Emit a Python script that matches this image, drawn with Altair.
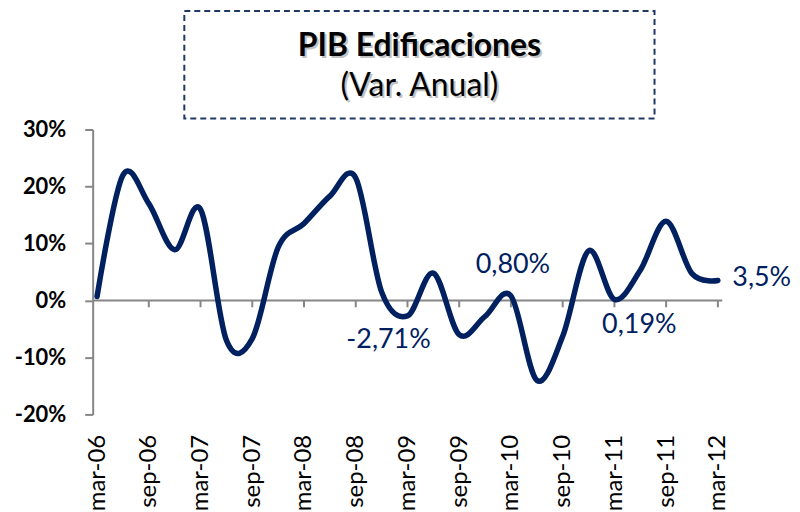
import altair as alt
import pandas as pd

# ---- data ----
quarters = ["mar-06", "jun-06", "sep-06", "dic-06",
            "mar-07", "jun-07", "sep-07", "dic-07",
            "mar-08", "jun-08", "sep-08", "dic-08",
            "mar-09", "jun-09", "sep-09", "dic-09",
            "mar-10", "jun-10", "sep-10", "dic-10",
            "mar-11", "jun-11", "sep-11", "dic-11",
            "mar-12"]
growth = [0.7, 22.0, 17.0, 8.9,
          16.0, -7.0, -6.7, 9.3,
          13.5, 18.3, 21.5, 1.5,
          -2.71, 4.8, -6.0, -2.8,
          0.80, -14.0, -6.3, 8.7,
          0.19, 5.3, 13.9, 4.7,
          3.5]
tick_labels = ["mar-06", "sep-06", "mar-07", "sep-07", "mar-08", "sep-08", "mar-09",
               "sep-09", "mar-10", "sep-10", "mar-11", "sep-11", "mar-12"]
y_ticks = [-20, -10, 0, 10, 20, 30]
ann_quarters = ["mar-09", "mar-10", "mar-11", "mar-12"]
ann_values = [-2.71, 0.80, 0.19, 3.5]
ann_texts = ["-2,71%", "0,80%", "0,19%", "3,5%"]
title_main = ["PIB Edificaciones"]
title_sub = ["(Var. Anual)"]
baseline = [0]

NAVY = "#002060"
GRAY = "#868686"
W, H = 632, 286

df = pd.DataFrame({"quarter": quarters, "growth": growth})
ann_df = pd.DataFrame({"quarter": ann_quarters, "growth": ann_values, "label": ann_texts})
tick_df = pd.DataFrame({"quarter": tick_labels[1:], "growth": [0] * (len(tick_labels) - 1),
                        "g2": [-1.2] * (len(tick_labels) - 1)})

x_scale = alt.Scale(type="point", padding=0.17)
x_axis = alt.Axis(values=tick_labels, labelAngle=-90, labelAlign="right",
                  labelBaseline="middle", labelPadding=20, domain=False, ticks=False,
                  labelFont="Lato", labelFontSize=24, labelColor="black", title=None,
                  grid=False, labelOverlap=False)
y_scale = alt.Scale(domain=[-20, 30], nice=False, zero=False)
y_axis = alt.Axis(values=y_ticks, labelExpr="datum.value + '%'", labelFont="Lato",
                  labelFontWeight="bold", labelFontSize=22, labelColor="black",
                  labelPadding=19, tickSize=8, tickColor=GRAY, tickWidth=2,
                  domainColor=GRAY, domainWidth=2, grid=False, title=None)


def xe():
    return alt.X("quarter:N", sort=quarters, scale=x_scale, axis=x_axis)


def ye(field="growth"):
    return alt.Y(f"{field}:Q", scale=y_scale, axis=y_axis)


zero_line = alt.Chart(pd.DataFrame({"growth": baseline})).mark_rule(
    color=GRAY, strokeWidth=2).encode(y=ye(), x=alt.value(0), x2=alt.value(W))

ticks = alt.Chart(tick_df).mark_rule(color=GRAY, strokeWidth=2).encode(
    x=xe(), y=ye(), y2="g2:Q")

line = alt.Chart(df).mark_line(interpolate="cardinal", strokeWidth=5.5, color=NAVY,
                               strokeCap="round", strokeJoin="round").encode(
    x=xe(), y=ye())

offsets = {"mar-09": (-19, 24), "mar-10": (2, -31), "mar-11": (25, 26), "mar-12": (44, -2)}
ann_layers = []
for q in ann_quarters:
    dx, dy = offsets[q]
    ann_layers.append(
        alt.Chart(ann_df).transform_filter(alt.datum.quarter == q).mark_text(
            dx=dx, dy=dy, font="Lato", fontSize=27, color=NAVY, align="center",
            baseline="middle").encode(x=xe(), y=ye(), text="label:N"))

box = alt.Chart(pd.DataFrame({"a": [0]})).mark_rect(
    fill="white", fillOpacity=0, stroke="#1F3864", strokeWidth=2,
    strokeDash=[6, 4]).encode(x=alt.value(92), x2=alt.value(564),
                              y=alt.value(-119), y2=alt.value(-11))

t_df = pd.DataFrame({"t": title_main})
s_df = pd.DataFrame({"t": title_sub})
title_shadow = alt.Chart(t_df).mark_text(font="Lato", fontWeight="bold", fontSize=32,
                                         color="#9a9a9a", opacity=0.6, align="center",
                                         baseline="alphabetic", dx=2, dy=2).encode(
    x=alt.value(328), y=alt.value(-74), text="t:N")
title_text = alt.Chart(t_df).mark_text(font="Lato", fontWeight="bold", fontSize=32,
                                       color="black", align="center",
                                       baseline="alphabetic").encode(
    x=alt.value(328), y=alt.value(-74), text="t:N")
sub_shadow = alt.Chart(s_df).mark_text(font="Lato", fontSize=32, color="#9a9a9a",
                                       opacity=0.6, align="center",
                                       baseline="alphabetic", dx=2, dy=2).encode(
    x=alt.value(328), y=alt.value(-34), text="t:N")
sub_text = alt.Chart(s_df).mark_text(font="Lato", fontSize=32, color="black",
                                     align="center", baseline="alphabetic").encode(
    x=alt.value(328), y=alt.value(-34), text="t:N")

chart = alt.layer(zero_line, ticks, line, *ann_layers, box, title_shadow, title_text,
                  sub_shadow, sub_text).properties(
    width=W, height=H,
    padding={"left": 85, "top": 121, "right": 70, "bottom": 97},
    autosize=alt.AutoSizeParams(type="none"),
    background="white",
).configure_view(stroke=None)

chart.save("out.html", embed_options={"renderer": "svg", "actions": False})
